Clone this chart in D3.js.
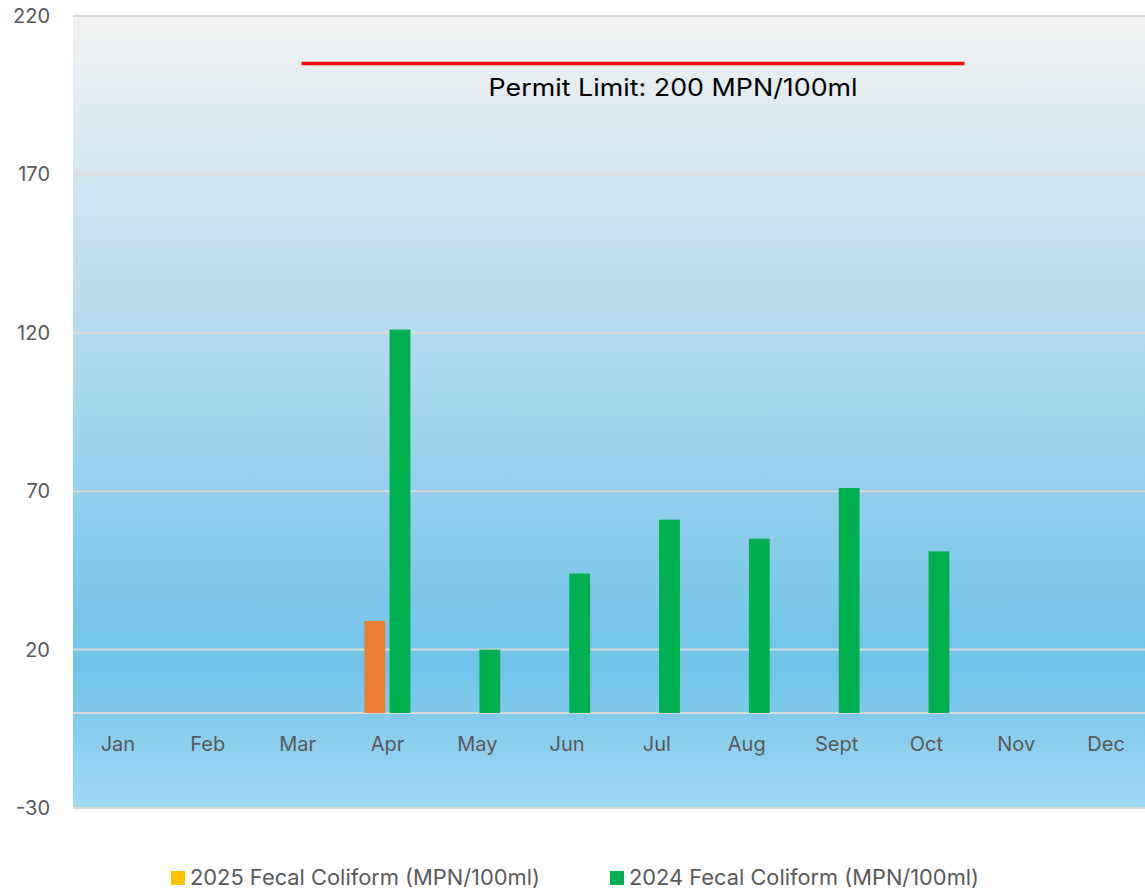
<!DOCTYPE html>
<html>
<head>
<meta charset="utf-8">
<script src="https://cdn.jsdelivr.net/npm/d3@7"></script>
<style>
  body { margin: 0; background: #fff; }
  svg { display: block; font-family: "Inter", "Open Sans", sans-serif; }
</style>
</head>
<body>
<svg id="chart" width="1145" height="892"></svg>
<script>
// data
const months = ["Jan", "Feb", "Mar", "Apr", "May", "Jun", "Jul", "Aug", "Sept", "Oct", "Nov", "Dec"];
const series = ["2025 Fecal Coliform (MPN/100ml)", "2024 Fecal Coliform (MPN/100ml)"];
const values2025 = [null, null, null, 29, null, null, null, null, null, null, null, null];
const values2024 = [null, null, null, 121, 20, 44, 61, 55, 71, 51, null, null];
const yTicks = [-30, 20, 70, 120, 170, 220];
const permitLabel = "Permit Limit: 200 MPN/100ml";
const permitValue = 205; // the drawn line sits a little above 200

const barColors = ["#ED7D31", "#00B050"];
const legendColors = ["#FFC000", "#00B050"];

const svg = d3.select("#chart");
const margin = { top: 16, right: -6, bottom: 84, left: 73 };
const width = +svg.attr("width");
const height = +svg.attr("height");
const innerWidth = width - margin.left - margin.right;
const innerHeight = height - margin.top - margin.bottom;

const g = svg.append("g").attr("transform", `translate(${margin.left},${margin.top})`);

// background gradient
const grad = svg.append("defs").append("linearGradient")
  .attr("id", "bg").attr("x1", 0).attr("y1", 0).attr("x2", 0).attr("y2", 1);
grad.append("stop").attr("offset", "0%").attr("stop-color", "#f2f2f2");
grad.append("stop").attr("offset", "45%").attr("stop-color", "#acd8ee");
grad.append("stop").attr("offset", "82%").attr("stop-color", "#71c2e8");
grad.append("stop").attr("offset", "100%").attr("stop-color", "#a3d8f2");

g.append("rect")
  .attr("width", innerWidth).attr("height", innerHeight)
  .attr("fill", "url(#bg)");

const x = d3.scaleBand().domain(months).range([0, innerWidth]);
const groupW = 46;
const x1 = d3.scaleBand().domain(series)
  .range([(x.bandwidth() - groupW) / 2, (x.bandwidth() + groupW) / 2])
  .paddingInner(0.17);

const y = d3.scaleLinear().domain([-30, 220]).range([innerHeight, 0]);

// gridlines
g.append("g")
  .selectAll("line")
  .data(yTicks.concat([0]))
  .enter().append("line")
  .attr("x1", 0).attr("x2", innerWidth)
  .attr("y1", d => y(d)).attr("y2", d => y(d))
  .attr("stroke", "#d9d9d9").attr("stroke-width", 2);

// y axis labels
const yAxisG = g.append("g")
  .call(d3.axisLeft(y).tickValues(yTicks).tickFormat(d => String(d)).tickSize(0).tickPadding(23));
yAxisG.select(".domain").remove();
yAxisG.selectAll("text")
  .attr("font-size", 20).attr("fill", "#595959")
  .attr("font-family", "Inter, 'Open Sans', sans-serif");

// x axis labels (below zero line)
const xAxisG = g.append("g")
  .attr("transform", `translate(0,${y(0)})`)
  .call(d3.axisBottom(x).tickSize(0).tickPadding(24));
xAxisG.select(".domain").remove();
xAxisG.selectAll("text")
  .attr("font-size", 20).attr("fill", "#595959")
  .attr("font-family", "Inter, 'Open Sans', sans-serif");

// bars
const allValues = [values2025, values2024];
series.forEach((s, i) => {
  const rows = months.map((m, j) => ({ month: m, value: allValues[i][j] }))
    .filter(d => d.value !== null);
  g.append("g").selectAll("rect")
    .data(rows)
    .enter().append("rect")
    .attr("x", d => x(d.month) + x1(s))
    .attr("width", x1.bandwidth())
    .attr("y", d => y(d.value))
    .attr("height", d => y(0) - y(d.value))
    .attr("fill", barColors[i]);
});

// permit limit line and label
g.append("line")
  .attr("x1", x("Mar") + x.bandwidth() / 2 + 4)
  .attr("x2", x("Oct") + x.bandwidth() / 2 + 38)
  .attr("y1", y(permitValue)).attr("y2", y(permitValue))
  .attr("stroke", "#ff0000").attr("stroke-width", 3.5);

g.append("text")
  .attr("x", x("Jun") + x.bandwidth() / 2 + 106)
  .attr("y", y(permitValue) + 32)
  .attr("text-anchor", "middle")
  .attr("font-size", 24).attr("fill", "#000")
  .attr("textLength", 369).attr("lengthAdjust", "spacingAndGlyphs")
  .text(permitLabel);

// legend
const legendX = [171, 610];
const legend = svg.append("g").selectAll("g")
  .data(series)
  .enter().append("g")
  .attr("transform", (d, i) => `translate(${legendX[i]},871)`);
legend.append("rect")
  .attr("width", 14).attr("height", 14)
  .attr("fill", (d, i) => legendColors[i]);
legend.append("text")
  .attr("x", 19).attr("y", 14)
  .attr("font-size", 21.5).attr("fill", "#595959")
  .attr("textLength", 350).attr("lengthAdjust", "spacingAndGlyphs")
  .text(d => d);
</script>
</body>
</html>
